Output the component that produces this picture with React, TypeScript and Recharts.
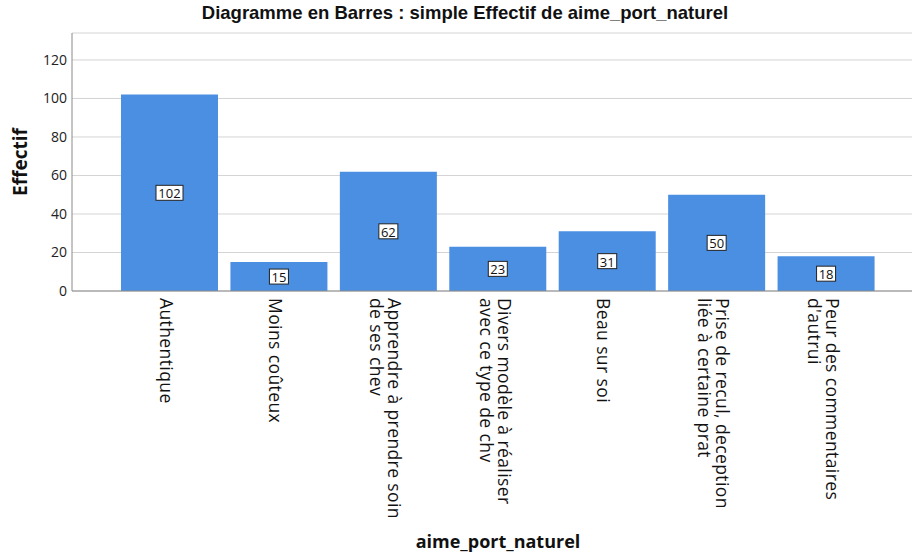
import { BarChart, Bar, XAxis, YAxis, CartesianGrid, LabelList, Label } from 'recharts';

const categories = [
    ['Authentique'],
    ['Moins coûteux'],
    ['Apprendre à prendre soin', 'de ses chev'],
    ['Divers modèle à réaliser', 'avec ce type de chv'],
    ['Beau sur soi'],
    ['Prise de recul, deception', 'liée à certaine prat'],
    ['Peur des commentaires', "d'autrui"],
];
const counts = [102, 15, 62, 23, 31, 50, 18];
const yTicks = [0, 20, 40, 60, 80, 100, 120];

const data = categories.map((lines, i) => ({ name: lines.join('\n'), effectif: counts[i] }));

const BAR_COLOR = '#4a8fe2';
const FONT = '"Open Sans", "DejaVu Sans", sans-serif';

// rotated category labels, reading top to bottom, first line on the right
const CategoryTick = (props: any) => {
    const { x, y, payload } = props;
    const lines: string[] = String(payload.value).split('\n');
    const lineGap = 18;
    const start = lines.length === 1 ? 3 : -6.5;
    return (
        <g transform={`translate(${x},${y})`}>
            <text transform="rotate(90)" fontFamily={FONT} fontSize={17.5} letterSpacing={0.4} fill="#111" textAnchor="start" dominantBaseline="central">
                {lines.map((l, i) => (
                    <tspan key={i} x={7} y={start + i * lineGap}>{l}</tspan>
                ))}
            </text>
        </g>
    );
};

const ValueBox = (props: any) => {
    const { x, y, width, height, value } = props;
    const cx = x + width / 2;
    const cy = y + height / 2;
    const w = String(value).length * 8 + 3;
    return (
        <g>
            <rect x={cx - w / 2} y={cy - 7.5} width={w} height={15} fill="#fff" stroke="#222" strokeWidth={1} />
            <text x={cx} y={cy + 0.5} textAnchor="middle" dominantBaseline="central" fontFamily={FONT} fontSize={13} fill="#111">{value}</text>
        </g>
    );
};

export default function App() {
    return (
        <div style={{ position: 'absolute', left: 0, top: 0, width: 914, height: 554, background: '#fff' }}>
            <div style={{ position: 'absolute', top: 2, left: 0, width: 930, textAlign: 'center', fontFamily: '"Liberation Sans", Arial, sans-serif', fontWeight: 'bold', fontSize: 18.5, color: '#111' }}>
                Diagramme en Barres : simple Effectif de aime_port_naturel
            </div>
            <BarChart width={914} height={554} data={data} margin={{ top: 33, right: 2, bottom: 0, left: 0 }} barCategoryGap={6}>
                <CartesianGrid horizontal vertical={false} stroke="#d4d4d4" />
                <XAxis
                    dataKey="name"
                    height={263}
                    interval={0}
                    tickLine={false}
                    tickSize={0}
                    tickMargin={0}
                    padding={{ left: 43, right: 31 }}
                    stroke="#8a8a8a"
                    tick={<CategoryTick />}
                >
                    <Label
                        content={(p: any) => {
                            const vb = p.viewBox;
                            return (
                                <text x={vb.x + vb.width / 2 + 6} y={vb.y + vb.height - 6} textAnchor="middle" fontFamily={FONT} fontWeight="bold" fontSize={18} fill="#111">
                                    aime_port_naturel
                                </text>
                            );
                        }}
                    />
                </XAxis>
                <YAxis
                    width={72}
                    domain={[0, 134]}
                    ticks={yTicks}
                    interval={0}
                    tickLine={false}
                    tickSize={0}
                    tickMargin={5}
                    stroke="#8a8a8a"
                    tick={{ fill: '#222', fontFamily: FONT, fontSize: 14 }}
                >
                    <Label
                        content={(p: any) => {
                            const vb = p.viewBox;
                            const cy = vb.y + vb.height / 2;
                            return (
                                <text x={20} y={cy} transform={`rotate(-90, 20, ${cy})`} textAnchor="middle" dominantBaseline="central" fontFamily={FONT} fontWeight="bold" fontSize={19} fill="#111">
                                    Effectif
                                </text>
                            );
                        }}
                    />
                </YAxis>
                <Bar dataKey="effectif" fill={BAR_COLOR} isAnimationActive={false}>
                    <LabelList dataKey="effectif" content={<ValueBox />} />
                </Bar>
            </BarChart>
        </div>
    );
}
